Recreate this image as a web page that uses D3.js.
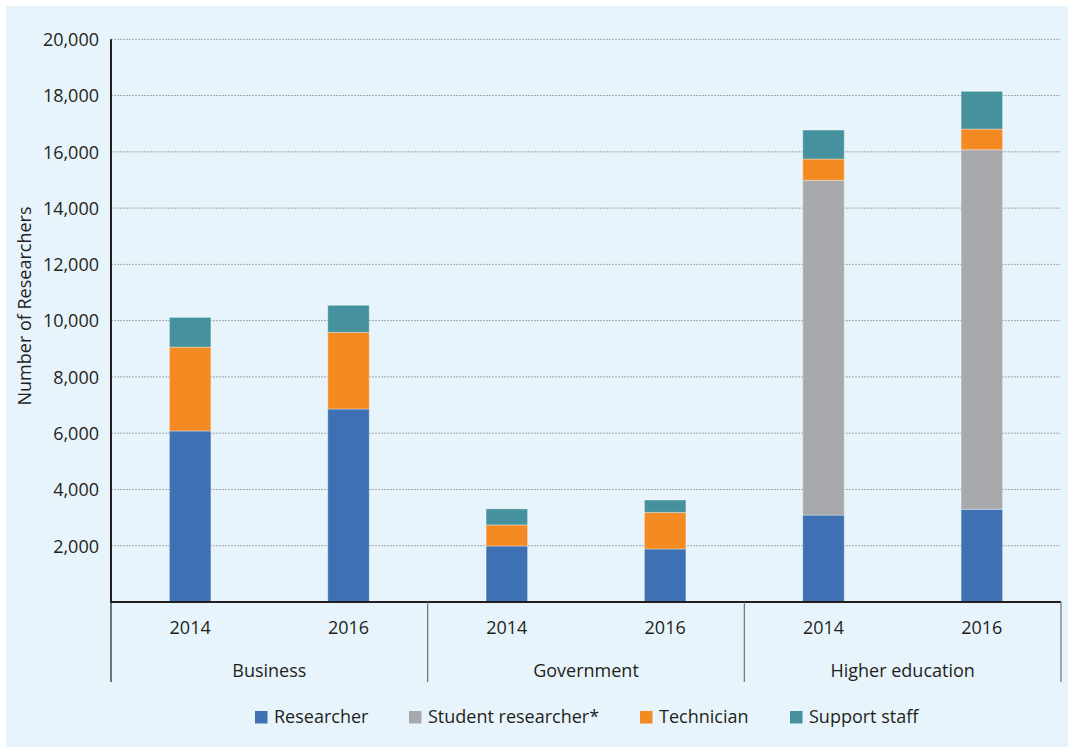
<!DOCTYPE html>
<html>
<head>
<meta charset="utf-8">
<script src="https://cdn.jsdelivr.net/npm/d3@7"></script>
<style>
  html, body { margin: 0; padding: 0; background: #ffffff; }
  svg { display: block; font-family: "Open Sans", sans-serif; }
</style>
</head>
<body>
<svg id="chart" width="1068" height="747"></svg>
<script>
// Sectors and survey years along the category axis
const sectors = ["Business", "Government", "Higher education"];
const years = ["2014", "2016"];

// Headcount by staff type, one value per sector-year (Business 14/16, Government 14/16, HE 14/16)
const researcher        = [6080, 6860, 1990, 1885, 3090, 3295];
const studentResearcher = [0, 0, 0, 0, 11900, 12780];
const technician        = [2980, 2725, 750, 1300, 755, 735];
const supportStaff      = [1055, 960, 570, 440, 1030, 1340];

const seriesNames = ["Researcher", "Student researcher*", "Technician", "Support staff"];
const seriesColors = ["#3d71b4", "#a8a9ad", "#f48a22", "#45929e"];

const yTicks = [2000, 4000, 6000, 8000, 10000, 12000, 14000, 16000, 18000, 20000];
const yMax = 20000;

// Build rows for d3.stack
const rows = [];
sectors.forEach((s, si) => years.forEach((y, yi) => {
  const i = si * years.length + yi;
  rows.push({
    key: s + "|" + y, sector: s, year: y,
    "Researcher": researcher[i],
    "Student researcher*": studentResearcher[i],
    "Technician": technician[i],
    "Support staff": supportStaff[i]
  });
}));

const svg = d3.select("#chart");

// Panel background
svg.append("rect").attr("x", 6).attr("y", 6).attr("width", 1062).attr("height", 741)
  .attr("fill", "#e8f4fb");

const plot = { left: 111, right: 1061, top: 39.3, bottom: 602 };

const x = d3.scaleBand()
  .domain(rows.map(d => d.key))
  .range([plot.left, plot.right])
  .paddingInner(0.738)
  .paddingOuter(0.369);

const y = d3.scaleLinear().domain([0, yMax]).range([plot.bottom, plot.top]);

const color = d3.scaleOrdinal().domain(seriesNames).range(seriesColors);

// Dashed gridlines
svg.append("g").selectAll("line").data(yTicks).join("line")
  .attr("x1", plot.left).attr("x2", plot.right - 1)
  .attr("y1", d => y(d)).attr("y2", d => y(d))
  .attr("stroke", "#a3a6a9").attr("stroke-width", 1)
  .attr("stroke-dasharray", "2,1");

// Y axis tick labels
const yAxis = d3.axisLeft(y).tickValues(yTicks).tickSize(0).tickPadding(12)
  .tickFormat(d3.format(","));
const gy = svg.append("g").attr("transform", `translate(${plot.left},0)`).call(yAxis);
gy.select(".domain").remove();
gy.selectAll("text").attr("font-family", "Open Sans").attr("font-size", 18)
  .attr("fill", "#231f20").attr("dy", "0.35em");

// Stacked bars
const stacked = d3.stack().keys(seriesNames)(rows);
svg.append("g").selectAll("g").data(stacked).join("g")
  .attr("fill", d => color(d.key))
  .selectAll("rect").data(d => d.filter(p => p[1] - p[0] > 0)).join("rect")
  .attr("x", d => x(d.data.key))
  .attr("width", x.bandwidth())
  .attr("y", d => y(d[1]))
  .attr("height", d => y(d[0]) - y(d[1]))
  .attr("stroke", "rgba(255,255,255,0.35)")
  .attr("stroke-width", 1);

// Axis lines
svg.append("line").attr("x1", plot.left).attr("x2", plot.left)
  .attr("y1", plot.top).attr("y2", plot.bottom + 1)
  .attr("stroke", "#231f20").attr("stroke-width", 2);
svg.append("line").attr("x1", plot.left).attr("x2", plot.right)
  .attr("y1", plot.bottom).attr("y2", plot.bottom)
  .attr("stroke", "#231f20").attr("stroke-width", 2);

// Group separators below the axis
const groupWidth = (plot.right - plot.left) / sectors.length;
const seps = d3.range(sectors.length + 1).map(i => plot.left + i * groupWidth);
svg.append("g").selectAll("line").data(seps).join("line")
  .attr("x1", d => d).attr("x2", d => d)
  .attr("y1", plot.bottom).attr("y2", 682)
  .attr("stroke", (d, i) => i === 0 ? "#231f20" : "#6d6e71")
  .attr("stroke-width", 1.2);

// Year labels
svg.append("g").selectAll("text").data(rows).join("text")
  .attr("x", d => x(d.key) + x.bandwidth() / 2)
  .attr("y", 634)
  .attr("text-anchor", "middle")
  .attr("font-size", 18).attr("fill", "#231f20")
  .text(d => d.year);

// Sector labels
svg.append("g").selectAll("text").data(sectors).join("text")
  .attr("x", (d, i) => plot.left + (i + 0.5) * groupWidth)
  .attr("y", 677)
  .attr("text-anchor", "middle")
  .attr("font-size", 18).attr("fill", "#231f20")
  .text(d => d);

// Y axis title
svg.append("text")
  .attr("transform", "translate(31,306) rotate(-90)")
  .attr("text-anchor", "middle")
  .attr("font-size", 18).attr("fill", "#231f20")
  .text("Number of Researchers");

// Legend
const legendX = [255, 409, 640, 790];
const leg = svg.append("g").selectAll("g").data(seriesNames).join("g")
  .attr("transform", (d, i) => `translate(${legendX[i]},711)`);
leg.append("rect").attr("width", 12.5).attr("height", 12.5)
  .attr("fill", d => color(d));
leg.append("text").attr("x", 19).attr("y", 12.3)
  .attr("font-size", 18).attr("fill", "#231f20")
  .text(d => d);
</script>
</body>
</html>
